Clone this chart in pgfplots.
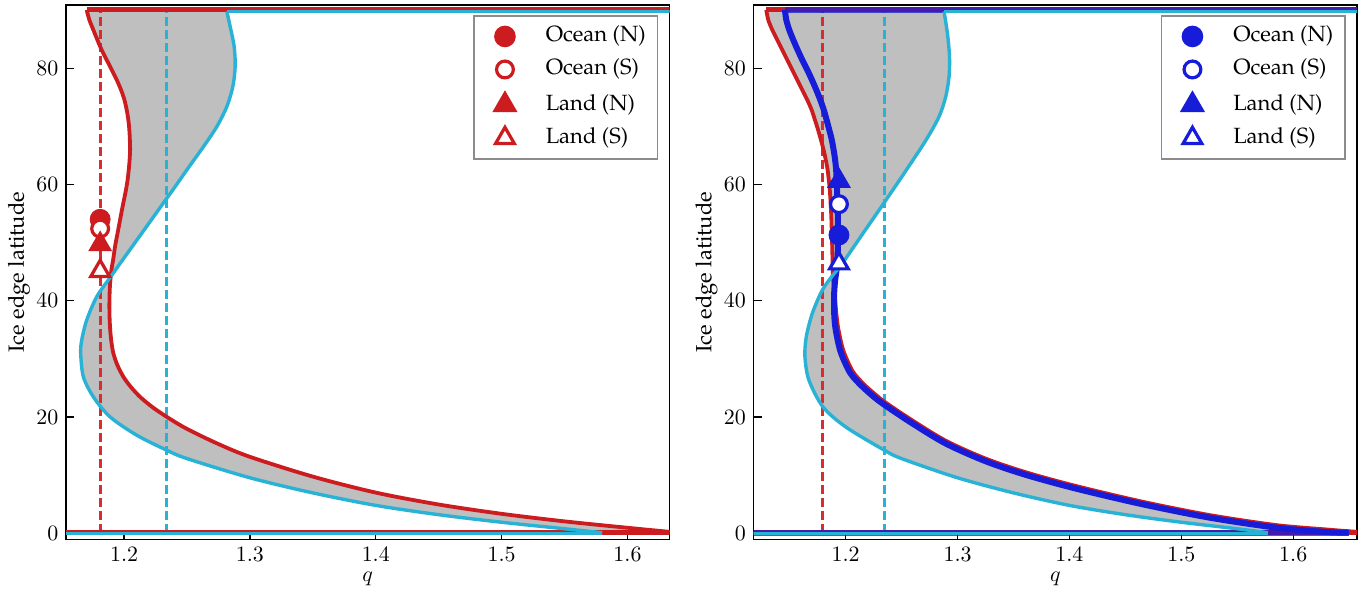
\documentclass[border=0pt]{standalone}
\usepackage[T1]{fontenc}
\renewcommand{\rmdefault}{ppl}
\usepackage{pgfplots}
\usepackage{pgfplotstable}
\pgfplotsset{compat=1.18}
\usepgfplotslibrary{fillbetween}
\definecolor{cred}{RGB}{205,28,32}
\definecolor{dred}{RGB}{214,45,48}
\definecolor{ccyan}{RGB}{40,178,214}
\definecolor{cblue}{RGB}{22,28,215}
\definecolor{fillg}{RGB}{191,191,191}

% left panel, red branch (top to bottom)
\pgfplotstableread{
q lat
1.1703 90.0
1.1724 88.30
1.1756 86.57
1.1788 84.85
1.1822 83.13
1.1862 81.41
1.1902 79.69
1.1942 77.97
1.1976 76.25
1.2003 74.53
1.2021 72.81
1.2034 71.08
1.2042 69.36
1.2046 67.64
1.2048 65.92
1.2044 64.20
1.2037 62.48
1.2028 60.76
1.2015 59.04
1.1999 57.32
1.1983 55.59
1.1968 53.87
1.1948 51.58
1.1928 49.28
1.1913 46.99
1.1899 45.27
1.18873 42.40
1.18834 39.53
1.18847 37.23
1.18900 34.94
1.18993 32.93
1.19152 30.92
1.19470 28.92
1.19947 26.91
1.20530 25.19
1.21272 23.46
1.22227 21.74
1.23393 20.02
1.25 17.95
1.275 15.35
1.30 13.15
1.35 9.75
1.40 7.0
1.45 4.95
1.50 3.35
1.55 2.05
1.60 0.95
1.6334 0.25
}\LR
% left panel, cyan branch
\pgfplotstableread{
q lat
1.28164 89.75
1.2843 87.15
1.28748 83.71
1.28827 80.26
1.28642 76.82
1.28164 73.38
1.27369 69.94
1.26309 66.49
1.25169 63.05
1.24056 59.61
1.22916 56.17
1.21776 52.72
1.20636 49.28
1.19497 45.84
1.1894 44.12
1.17827 40.68
1.17031 36.66
1.16634 33.22
1.16554 30.92
1.16766 26.91
1.17561 23.46
1.18887 20.02
1.21008 16.87
1.23393 14.29
1.25 12.85
1.30 9.55
1.35 6.95
1.40 4.8
1.45 3.2
1.50 1.9
1.55 0.78
1.5799 0.1
}\LC
% right panel, red branch
\pgfplotstableread{
q lat
1.12904 90.0
1.13083 88.30
1.13441 86.57
1.13888 84.85
1.14335 83.13
1.14782 81.41
1.15230 79.69
1.15677 77.97
1.16124 76.25
1.16571 74.53
1.16959 72.81
1.17257 71.08
1.1754 69.36
1.17794 67.64
1.18032 65.92
1.18226 64.20
1.1839 62.48
1.18494 60.76
1.18584 59.04
1.18658 56.74
1.18718 54.45
1.18763 51.58
1.18807 48.71
1.1883 46.4
1.1887 44.1
1.1899 41.5
1.1920 37.2
1.1937 34.9
1.1980 31.4
1.2062 27.9
1.2160 25.7
1.2267 23.85
1.2360 22.45
1.2608 19.27
1.2905 15.82
1.3258 12.8
1.3617 10.46
1.4063 8.11
1.4658 5.41
1.5254 3.13
1.5849 1.41
1.6295 0.66
1.6450 0.42
1.6570 0.25
}\RR
% right panel, blue branch
\pgfplotstableread{
q lat
1.14574 90.0
1.14693 88.30
1.14961 86.57
1.15319 84.85
1.15707 83.13
1.16124 81.41
1.16571 79.69
1.16989 77.97
1.17376 76.25
1.17734 74.53
1.18047 72.81
1.18300 71.08
1.18539 69.36
1.18763 67.64
1.18927 65.92
1.19061 64.20
1.19150 62.48
1.19210 60.19
1.19255 57.32
1.19300 54.45
1.19314 51.58
1.19300 48.71
1.19220 45.84
1.19060 43.5
1.18980 41.5
1.18960 39.5
1.18990 37.2
1.19120 34.9
1.19550 31.2
1.20400 27.6
1.21400 25.4
1.22500 23.5
1.23460 22.1
1.25960 18.9
1.28945 15.44
1.32500 12.4
1.36100 10.05
1.40572 7.69
1.46536 4.99
1.52499 2.70
1.58462 0.98
1.62934 0.23
1.64960 0.1
}\RB
% right panel, cyan branch
\pgfplotstableread{
q lat
1.28795 89.75
1.29094 86.01
1.29243 83.13
1.29287 81.41
1.29243 78.55
1.28945 75.10
1.28348 71.66
1.27185 67.64
1.25426 62.48
1.23399 56.74
1.21550 51.58
1.19702 46.42
1.18867 44.41
1.17913 41.82
1.17018 37.81
1.16482 33.79
1.16362 30.35
1.16720 26.33
1.17972 21.74
1.20000 18.30
1.23459 14.29
1.25 12.85
1.30 9.55
1.35 6.95
1.40 4.8
1.45 3.2
1.50 1.9
1.55 0.78
1.5772 0.1
}\RC

\pgfplotsset{
  panel/.style={
    scale only axis, width=301.5pt, height=267pt,
    ymin=-1.05, ymax=90.85,
    xtick={1.2,1.3,1.4,1.5,1.6}, ytick={0,20,40,60,80},
    xticklabel style={/pgf/number format/.cd, fixed, fixed zerofill, precision=1},
    tick align=inside, xtick pos=bottom, ytick pos=left,
    major tick length=4pt,
    every tick/.style={black, line width=0.6pt},
    axis line style={line width=0.9pt},
    xlabel={$q$}, ylabel={Ice edge latitude},
    xlabel style={at={(axis description cs:0.5,-0.073)}, anchor=center},
    ylabel style={at={(axis description cs:-0.078,0.5)}, anchor=center},
    legend style={at={(1,1)}, anchor=north east, xshift=-5.5pt, yshift=-5pt,
      draw=black!45, line width=0.8pt, inner xsep=6pt, inner ysep=5pt,
      row sep=5.9pt, column sep=11pt,
      nodes={inner sep=0pt, text height=8pt, text depth=2.6pt}},
    legend cell align=left,
  },
  mk/.style={only marks, legend image code/.code={\draw[##1] plot coordinates {(9pt,0pt)}; \path (0pt,0pt) (18pt,0pt);}},
  curve/.style={smooth, tension=0.5, forget plot},
  dashl/.style={line width=1.5pt, dash pattern=on 4.5pt off 2pt, forget plot},
  hl/.style={line width=2.5pt, forget plot},
}

\begin{document}
\fontsize{11}{13.2}\selectfont
\begin{tikzpicture}
% ---------------- left panel
\begin{axis}[panel, xmin=1.1539, xmax=1.6334]
\addplot[curve, draw=none, name path=A] table[x=q,y=lat] {\LR};
\addplot[curve, draw=none, name path=B] table[x=q,y=lat] {\LC};
\addplot[fillg, forget plot] fill between[of=A and B];
\addplot[dred, dashl] coordinates {(1.181,0) (1.181,90)};
\addplot[ccyan, dashl] coordinates {(1.234,0) (1.234,90)};
\addplot[cred, hl] coordinates {(1.1703,90) (1.70,90)};
\addplot[cred, hl] coordinates {(1.10,0.22) (1.70,0.22)};
\addplot[curve, cred, line width=1.9pt] table[x=q,y=lat] {\LR};
\addplot[ccyan, line width=1.7pt, forget plot] coordinates {(1.28164,89.75) (1.70,89.75)};
\addplot[ccyan, line width=1.7pt, forget plot] coordinates {(1.10,-0.05) (1.5799,-0.05)};
\addplot[curve, ccyan, line width=1.7pt] table[x=q,y=lat] {\LC};
\addplot[mk, mark=*, mark size=5pt, cred, mark options={fill=cred, draw=cred}] coordinates {(1.181,54.0)};
\addlegendentry{Ocean (N)}
\addplot[mk, mark=*, mark size=4.2pt, cred, mark options={fill=white, draw=cred, line width=1.6pt}] coordinates {(1.181,52.4)};
\addlegendentry{Ocean (S)}
\addplot[mk, mark=triangle*, mark size=6.5pt, cred, mark options={fill=cred, draw=cred}] coordinates {(1.181,49.7)};
\addlegendentry{Land (N)}
\addplot[mk, mark=triangle*, mark size=5.4pt, cred, mark options={fill=white, draw=cred, line width=1.6pt}] coordinates {(1.181,45.1)};
\addlegendentry{Land (S)}
\end{axis}
% ---------------- right panel
\begin{axis}[panel, at={(343.5pt,0pt)}, xmin=1.1177, xmax=1.657]
\addplot[curve, draw=none, name path=A] table[x=q,y=lat] {\RR};
\addplot[curve, draw=none, name path=B] table[x=q,y=lat] {\RC};
\addplot[fillg, forget plot] fill between[of=A and B];
\addplot[dred, dashl] coordinates {(1.1797,0) (1.1797,90)};
\addplot[ccyan, dashl] coordinates {(1.2346,0) (1.2346,90)};
\addplot[cred, hl] coordinates {(1.12904,90) (1.70,90)};
\addplot[cred, hl] coordinates {(1.10,0.22) (1.70,0.22)};
\addplot[curve, cred, line width=1.9pt] table[x=q,y=lat] {\RR};
\addplot[cblue, opacity=0.75, line width=3pt, forget plot] coordinates {(1.14574,90) (1.70,90)};
\addplot[cblue, opacity=0.75, line width=3pt, forget plot] coordinates {(1.10,0.12) (1.6496,0.12)};
\addplot[curve, cblue, line width=3pt] table[x=q,y=lat] {\RB};
\addplot[ccyan, line width=1.7pt, forget plot] coordinates {(1.28795,89.75) (1.70,89.75)};
\addplot[ccyan, line width=1.7pt, forget plot] coordinates {(1.10,-0.05) (1.5772,-0.05)};
\addplot[curve, ccyan, line width=1.7pt] table[x=q,y=lat] {\RC};
\addplot[mk, mark=*, mark size=5pt, cblue, mark options={fill=cblue, draw=cblue}] coordinates {(1.194,51.3)};
\addlegendentry{Ocean (N)}
\addplot[mk, mark=*, mark size=4.2pt, cblue, mark options={fill=white, draw=cblue, line width=1.6pt}] coordinates {(1.194,56.6)};
\addlegendentry{Ocean (S)}
\addplot[mk, mark=triangle*, mark size=6.5pt, cblue, mark options={fill=cblue, draw=cblue}] coordinates {(1.194,60.6)};
\addlegendentry{Land (N)}
\addplot[mk, mark=triangle*, mark size=5.4pt, cblue, mark options={fill=white, draw=cblue, line width=1.6pt}] coordinates {(1.194,46.4)};
\addlegendentry{Land (S)}
\end{axis}
\pgfresetboundingbox
\path[use as bounding box] (-33pt,-26pt) rectangle (646pt,269.5pt);
\end{tikzpicture}
\end{document}
